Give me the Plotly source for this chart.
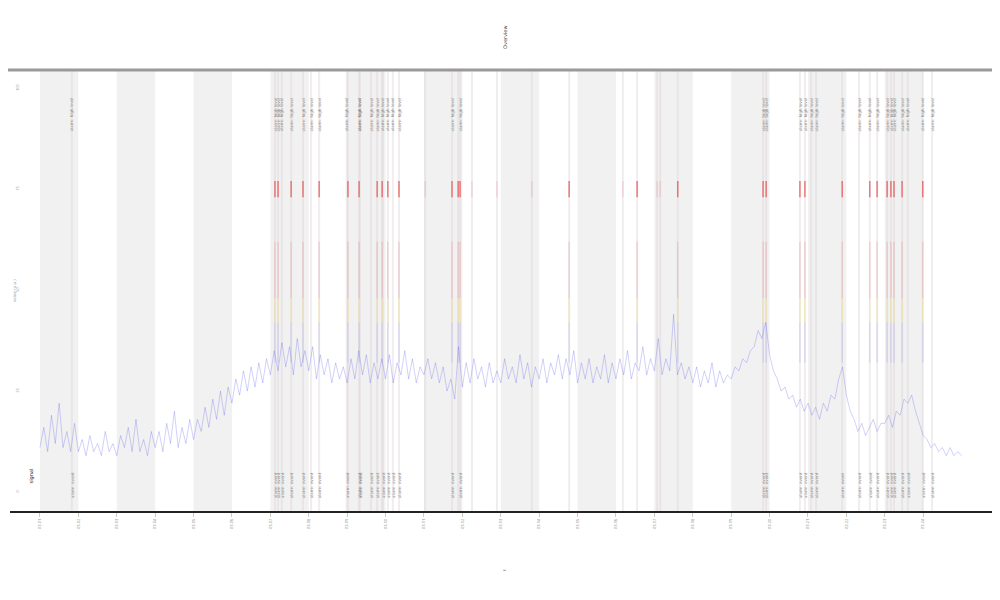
import plotly.graph_objects as go

# ---------------- data ----------------
day_ticks = list(range(24))
tick_labels = ["03-%02d" % (i + 1) for i in range(24)]
shaded_days = [0, 2, 4, 6, 8, 10, 12, 14, 16, 18, 20, 22]

signal_x = [round(i * 0.1, 1) for i in range(241)]
signal_y = [
    11, 16, 10, 19, 12, 22, 11, 15, 10, 17,
    10, 13, 9, 14, 10, 12, 9, 15, 10, 12,
    9, 14, 11, 16, 10, 18, 10, 13, 9, 15,
    11, 15, 10, 17, 12, 20, 11, 16, 12, 18,
    13, 18, 15, 21, 16, 23, 18, 25, 19, 26,
    22, 28, 24, 30, 25, 31, 26, 32, 27, 33,
    29, 35, 30, 37, 31, 36, 29, 38, 31, 35,
    30, 36, 28, 34, 29, 33, 27, 32, 28, 31,
    27, 33, 28, 35, 29, 34, 27, 32, 28, 33,
    28, 34, 27, 32, 29, 35, 28, 33, 27, 31,
    29, 33, 28, 32, 27, 31, 25, 28, 23, 36,
    26, 32, 27, 33, 28, 31, 26, 32, 27, 30,
    27, 33, 28, 31, 27, 34, 28, 32, 26, 31,
    28, 33, 27, 32, 29, 34, 28, 33, 29, 35,
    27, 32, 28, 33, 27, 31, 28, 34, 27, 32,
    28, 33, 29, 35, 28, 32, 30, 36, 29, 33,
    30, 38, 29, 33, 30, 44, 29, 32, 28, 31,
    27, 31, 26, 30, 27, 32, 26, 30, 27, 29,
    28, 31, 30, 33, 32, 35, 36, 40, 38, 42,
    34, 30, 28, 25, 26, 23, 24, 21, 23, 20,
    22, 19, 21, 18, 22, 20, 24, 23, 28, 31,
    24, 20, 18, 15, 17, 14, 16, 18, 15, 17,
    17, 19, 16, 20, 19, 23, 22, 24, 20, 17,
    14, 13, 11, 12, 10, 11, 9, 11, 9, 10,
    9,
]

# events (day units)
labeled_events = [0.83, 6.12, 6.20, 6.30, 6.54, 6.85, 7.06, 7.27, 7.99, 8.31, 8.33,
                  8.62, 8.78, 8.93, 9.06, 9.19, 9.35, 10.73, 10.94, 18.83, 18.91,
                  19.79, 19.92, 20.08, 20.21, 20.89, 21.33, 21.61, 21.80, 22.06,
                  22.16, 22.24, 22.45, 22.60, 22.99, 23.23]
alarm_events = [6.12, 6.20, 6.54, 6.85, 7.27, 8.02, 8.31, 8.78, 8.91, 9.06, 9.35,
                10.73, 10.89, 10.94, 13.78, 15.55, 16.61, 18.83, 18.91, 19.79,
                19.92, 20.89, 21.61, 21.80, 22.06, 22.16, 22.24, 22.45, 22.99]
minor_events = [10.03, 11.25, 11.90, 12.81, 15.18, 16.07, 16.15]
event_text_top = "alarm: high level"
event_text_bottom = "alarm: event"

# colour band levels of the alarm columns
blue_band = [32, 42]
yellow_band = [42, 48]
red_band = [48, 62]
alarm_band = [73, 77]
top_label_level = 93.5
bottom_label_level = 1.7

y_ticks = [0, 25, 50, 75, 100]

# ---------------- figure ----------------
fig = go.Figure()

shapes = []
for d in shaded_days:
    shapes.append(dict(type="rect", xref="x", yref="paper", x0=d, x1=d + 1, y0=0, y1=1,
                       fillcolor="#f1f1f1", line=dict(width=0), layer="below"))
for e in sorted(set(labeled_events + alarm_events + minor_events)):
    shapes.append(dict(type="line", xref="x", yref="paper", x0=e, x1=e, y0=0, y1=1,
                       line=dict(color="rgba(225,215,220,0.45)", width=2), layer="below"))
shapes.append(dict(type="line", xref="paper", yref="paper", x0=-0.005, x1=1, y0=1, y1=1,
                   line=dict(color="#9a9a9a", width=3)))


def segs(events, band):
    xs, ys = [], []
    for e in events:
        xs += [e, e, None]
        ys += [band[0], band[1], None]
    return xs, ys


fig.add_trace(go.Scatter(x=signal_x, y=signal_y, mode="lines",
                         line=dict(color="rgba(70,70,235,0.25)", width=1),
                         showlegend=False, hoverinfo="skip"))

for evs, band, col, w in [
    (alarm_events, blue_band, "rgba(120,120,235,0.22)", 1.2),
    (alarm_events, yellow_band, "rgba(240,215,70,0.35)", 1.2),
    (alarm_events, red_band, "rgba(225,70,70,0.22)", 1.2),
    (alarm_events, alarm_band, "rgba(225,30,30,0.70)", 1.2),
    (minor_events, alarm_band, "rgba(225,60,60,0.22)", 1.0),
]:
    xs, ys = segs(evs, band)
    fig.add_trace(go.Scatter(x=xs, y=ys, mode="lines", line=dict(color=col, width=w),
                             showlegend=False, hoverinfo="skip"))

annotations = []
for e in labeled_events:
    for lvl, txt in ((top_label_level, event_text_top), (bottom_label_level, event_text_bottom)):
        annotations.append(dict(x=e, y=lvl, xref="x", yref="y", text=txt,
                                showarrow=False, textangle=-90,
                                font=dict(size=4, color="#8a8a8a", family="DejaVu Sans")))
annotations.append(dict(x=0.5, y=-0.14, xref="paper", yref="paper",
                        text="t", showarrow=False, textangle=-90,
                        font=dict(size=4, color="#666666", family="DejaVu Sans")))
annotations.append(dict(x=-0.22, y=4, xref="x", yref="y",
                        text="signal", showarrow=False, textangle=-90,
                        font=dict(size=5, color="#222222", family="DejaVu Sans"),
                        bgcolor="rgba(255,255,255,0.8)"))
annotations.append(dict(x=0.0, y=0.5, xref="paper", yref="paper", xanchor="left",
                        text="value (a.u.)", showarrow=False, textangle=-90,
                        font=dict(size=4, color="#999999", family="DejaVu Sans")))
annotations.append(dict(x=0.5, y=1.0 + (70 - 37) / 441.0, xref="paper", yref="paper",
                        yanchor="middle", text="Overview", showarrow=False, textangle=-90,
                        font=dict(size=5, color="#333333", family="DejaVu Sans")))

# the page body has an 8px margin, so the figure origin sits at (8, 8)
fig.update_layout(
    width=1000, height=600,
    margin=dict(l=2, r=8, t=62, b=97, autoexpand=False),
    paper_bgcolor="white", plot_bgcolor="white",
    shapes=shapes, annotations=annotations,
    xaxis=dict(range=[-0.78, 25.0], tickmode="array", tickvals=day_ticks, ticktext=tick_labels,
               tickangle=-90, tickfont=dict(size=4, color="#888888"), showgrid=False,
               zeroline=False, showline=True, linecolor="#222222", linewidth=2,
               ticks="outside", ticklen=4, tickcolor="#cccccc", automargin=False),
    yaxis=dict(range=[-4.7, 104.5], tickvals=y_ticks, tickangle=-90, automargin=False,
               ticklabelposition="inside", ticklabelstandoff=1,
               tickfont=dict(size=4, color="#999999"), showgrid=False, zeroline=False,
               showline=False),
)

fig.write_html("out.html")
